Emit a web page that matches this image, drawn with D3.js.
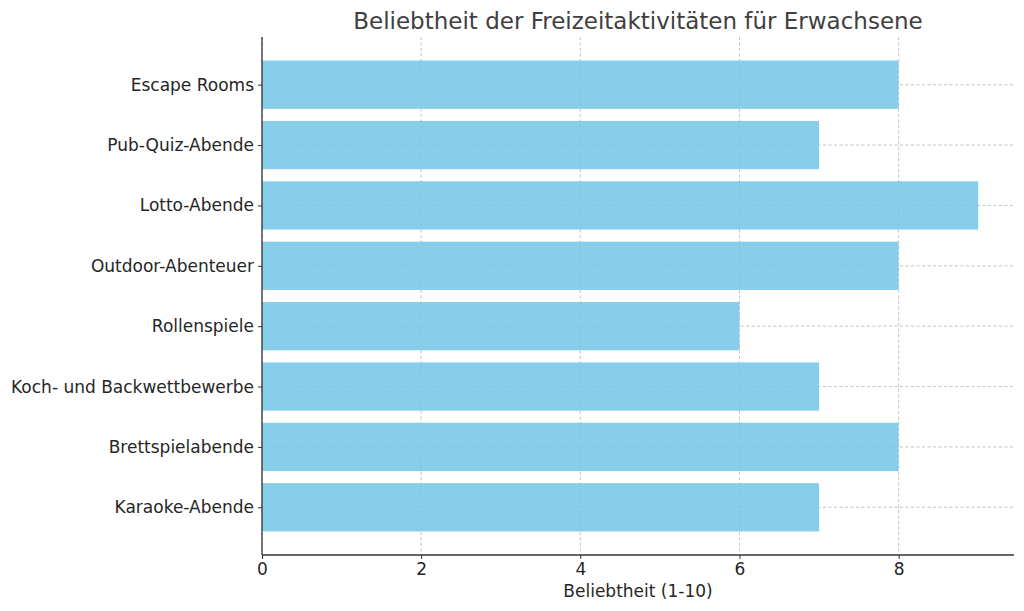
<!DOCTYPE html>
<html><head><meta charset="utf-8">
<script src="https://cdn.jsdelivr.net/npm/d3@7"></script>
<style>body{margin:0;background:#fff;} text{font-family:"DejaVu Sans",sans-serif;}</style>
</head><body>
<svg id="c" width="1024" height="611"></svg>
<script>
const categories = ["Karaoke-Abende","Brettspielabende","Koch- und Backwettbewerbe","Rollenspiele","Outdoor-Abenteuer","Lotto-Abende","Pub-Quiz-Abende","Escape Rooms"];
const values = [7,8,7,6,8,9,7,8];
const xTicks = [0,2,4,6,8];
const title = "Beliebtheit der Freizeitaktivitäten für Erwachsene";
const xLabel = "Beliebtheit (1-10)";

const svg = d3.select("#c");
const L = 262, R = 1014, T = 37, B = 555;
const x = d3.scaleLinear().domain([0, 9.45]).range([L, R]);
const y = d3.scaleLinear().domain([-0.79, 7.79]).range([B, T]);
const bh = y(0) - y(0.8);
const textCol = "#262626";

// grid
const g = svg.append("g");
g.selectAll("line.vx").data(xTicks).join("line")
  .attr("x1", d => x(d)).attr("x2", d => x(d)).attr("y1", T).attr("y2", B)
  .attr("stroke", "#b0b0b0").attr("stroke-width", 0.8).attr("stroke-dasharray", "3,2.5").attr("opacity", 0.7);
g.selectAll("line.hy").data(categories).join("line")
  .attr("x1", L).attr("x2", R).attr("y1", (d,i) => y(i)).attr("y2", (d,i) => y(i))
  .attr("stroke", "#b0b0b0").attr("stroke-width", 0.8).attr("stroke-dasharray", "3,2.5").attr("opacity", 0.7);

// bars
svg.append("g").selectAll("rect").data(values).join("rect")
  .attr("x", x(0)).attr("y", (d,i) => y(i) - bh/2)
  .attr("width", d => x(d) - x(0)).attr("height", bh)
  .attr("fill", "#87CEEB");

// grid faintly over bars
const g2 = svg.append("g").attr("opacity", 0.25);
g2.selectAll("line.vx").data(xTicks).join("line")
  .attr("x1", d => x(d)).attr("x2", d => x(d)).attr("y1", T).attr("y2", B)
  .attr("stroke", "#999").attr("stroke-width", 0.8).attr("stroke-dasharray", "3,2.5");
g2.selectAll("line.hy").data(categories).join("line")
  .attr("x1", L).attr("x2", R).attr("y1", (d,i) => y(i)).attr("y2", (d,i) => y(i))
  .attr("stroke", "#999").attr("stroke-width", 0.8).attr("stroke-dasharray", "3,2.5");

// axes
const xa = svg.append("g").attr("transform", `translate(0,${B})`)
  .call(d3.axisBottom(x).tickValues(xTicks).tickSize(4).tickPadding(4).tickFormat(d3.format("d")));
const ya = svg.append("g").attr("transform", `translate(${L},0)`)
  .call(d3.axisLeft(y).tickValues(d3.range(categories.length)).tickSize(4).tickPadding(4).tickFormat(i => categories[i]));
[xa, ya].forEach(a => {
  a.select(".domain").attr("stroke", "#333").attr("stroke-width", 1.3);
  a.selectAll(".tick line").attr("stroke", "#333").attr("stroke-width", 1);
  a.selectAll(".tick text").attr("fill", textCol).style("font-size", "17px").style("font-family", "DejaVu Sans");
});
xa.select(".domain").attr("d", `M${L},0H${R}`);
ya.select(".domain").attr("d", `M0,${T}V${B}`);

svg.append("text").attr("x", (L+R)/2).attr("y", 29).attr("text-anchor", "middle")
  .attr("fill", "#404040").style("font-size", "23px").text(title);
svg.append("text").attr("x", (L+R)/2).attr("y", 597).attr("text-anchor", "middle")
  .attr("fill", textCol).style("font-size", "17px").text(xLabel);
</script>
</body></html>
